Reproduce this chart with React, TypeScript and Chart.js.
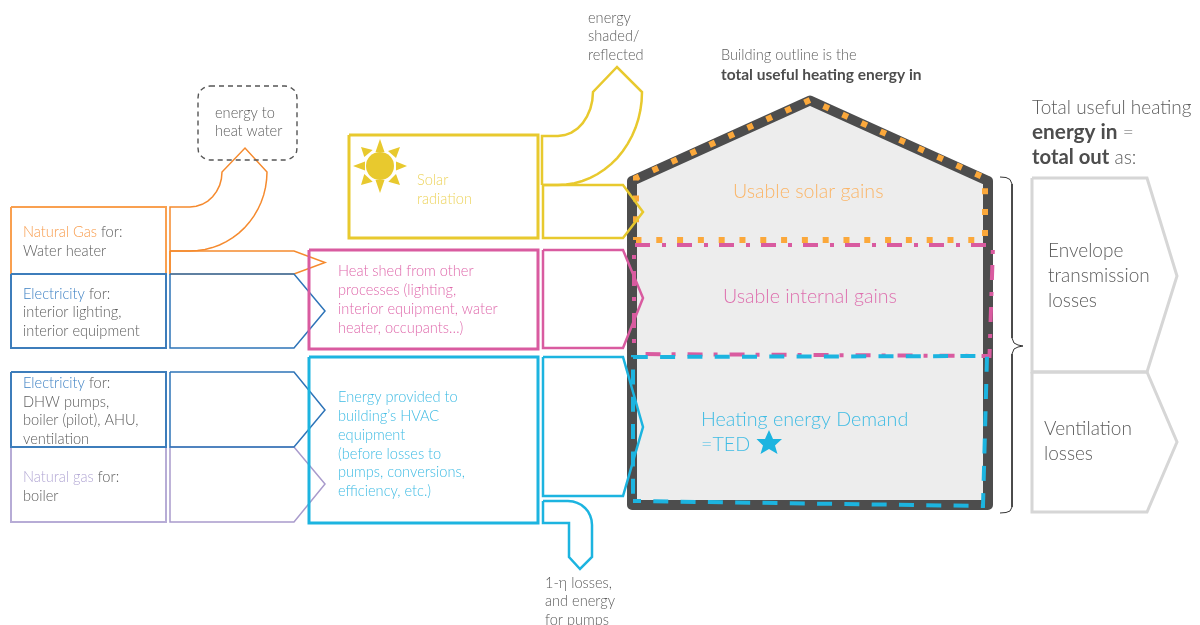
import React, { useEffect, useRef } from "react";
import { Chart, registerables } from "chart.js";

Chart.register(...registerables);

type P = [number, number];
const GREY = "#5C5C5C";
const FONT = "Lato";

// ---- shapes (x, y in page pixels) ----
const houseWall: P[] = [[632, 181], [810, 100.5], [988, 181], [988, 505], [632, 505], [632, 181]];
const solarDotted: P[] = [[636, 240], [636, 178], [810, 100], [985, 178], [985, 240], [636, 240]];
const internalDashDot: P[] = [[634, 354], [634, 245], [993, 245], [989.5, 356], [634, 354]];
const demandDashed: P[] = [[633, 501], [633, 357], [987, 356], [983, 506], [633, 501]];

const gasWaterBox: P[] = [[11, 207], [166, 207], [166, 274], [11, 274], [11, 207]];
const elecLightBox: P[] = [[11, 274], [166, 274], [166, 348], [11, 348], [11, 274]];
const elecPumpBox: P[] = [[11, 372], [166, 372], [166, 447], [11, 447], [11, 372]];
const gasBoilerBox: P[] = [[11, 447], [166, 447], [166, 522], [11, 522], [11, 447]];

const gasHeatArrow: P[] = [
  [170, 274], [170, 207], [190, 207], [196.2, 206.3], [202.2, 204.3], [207.8, 201.1], [212.6, 196.7], [216.6, 191.4], [219.6, 185.4], [221.4, 178.8], [222, 172], [245, 148], [267, 172],
  [266.6, 179.7], [265.5, 187.4], [263.7, 194.9], [261.1, 202.3], [257.9, 209.2], [254, 215.9], [249.5, 222.1], [244.4, 227.9], [238.8, 233.1], [232.8, 237.7], [226.3, 241.7], [219.5, 245], [212.3, 247.6], [205, 249.5], [197.5, 250.6], [190, 251], [170, 251],
];
const gasShedArrow: P[] = [[170, 251], [294, 251], [325, 262.5], [294, 274], [170, 274], [170, 251]];
const elecLightArrow: P[] = [[170, 274], [294, 274], [325, 311], [294, 348], [170, 348], [170, 274]];
const elecPumpArrow: P[] = [[170, 372], [294, 372], [325, 410], [294, 447], [170, 447], [170, 372]];
const gasBoilerArrow: P[] = [[170, 447], [294, 447], [325, 484], [294, 522], [170, 522], [170, 447]];

const solarBox: P[] = [[349, 135], [538, 135], [538, 238], [349, 238], [349, 135]];
const internalBox: P[] = [[309, 250], [538, 250], [538, 349], [309, 349], [309, 250]];
const hvacBox: P[] = [[309, 357], [538, 357], [538, 523], [309, 523], [309, 357]];

const shadedArrow: P[] = [
  [542, 185], [542, 136], [558, 136], [564.8, 135.1], [571.4, 132.6], [577.5, 128.5], [582.7, 123.1], [587, 116.5], [590.3, 108.8], [592.3, 100.6], [593, 92], [617, 67], [642, 92],
  [641.6, 101.1], [640.4, 110.1], [638.4, 119], [635.6, 127.6], [632.1, 135.8], [627.8, 143.7], [622.9, 151], [617.4, 157.8], [611.3, 163.9], [604.7, 169.3], [597.6, 174], [590.2, 177.9], [582.4, 181], [574.4, 183.2], [566.2, 184.5], [558, 185], [542, 185],
];
const solarArrow: P[] = [[543, 185], [623, 185], [643, 212], [623, 238], [543, 238], [543, 185]];
const internalArrow: P[] = [[543, 250], [623, 250], [643, 298], [623, 348], [543, 348], [543, 250]];
const hvacArrow: P[] = [[543, 357], [623, 357], [643, 427], [623, 496], [543, 496], [543, 357]];
const lossArrow: P[] = [
  [543, 501], [568, 501], [573, 501.5], [577.2, 502.8], [581.5, 505], [585, 508], [588, 511.5], [590.2, 515.8], [591.5, 520], [592, 525], [592, 557], [580, 569], [569, 557], [569, 523], [543, 523], [543, 501],
];

const hotWaterBox: P[] = [
  [210, 86], [285, 86], [288.5, 86.5], [291.5, 88], [294.5, 90.5], [296.5, 94], [297, 98], [297, 148], [296.5, 152], [294.5, 155.5], [291.5, 158], [288.5, 159.5], [285, 160],
  [210, 160], [206.5, 159.5], [203.5, 158], [200.5, 155.5], [198.5, 152], [198, 148], [198, 98], [198.5, 94], [200.5, 90.5], [203.5, 88], [206.5, 86.5], [210, 86],
];
const brace: P[] = [
  [1000, 177], [1006, 177.5], [1010, 179.5], [1012, 184], [1012, 338], [1014, 343], [1018, 345], [1023, 346],
  [1018, 347], [1014, 349], [1012, 354], [1012, 507], [1010, 511], [1006, 512.5], [1000, 513],
];
const envelopeArrow: P[] = [[1032, 178], [1147, 178], [1177, 276], [1147, 372], [1032, 372], [1032, 178]];
const ventArrow: P[] = [[1032, 372], [1147, 372], [1177, 442], [1147, 512], [1032, 512], [1032, 372]];

const star: P[] = [[769, 430], [773, 439], [782, 439], [775, 445.5], [777.5, 454], [769, 449], [760.5, 454], [763, 445.5], [756.5, 439], [765, 439], [769, 430]];
const sunCentre: P[] = [[380, 166]];
const sunRays: P[][] = [
  [[380, 139], [375.5, 152], [384.5, 152], [380, 139]],
  [[380, 193], [375.5, 180], [384.5, 180], [380, 193]],
  [[353, 166], [365, 161.5], [365, 170.5], [353, 166]],
  [[407, 166], [396, 161.5], [396, 170.5], [407, 166]],
  [[361, 147], [372.7, 150], [364.3, 157], [361, 147]],
  [[400, 147], [388, 151], [396, 158], [400, 147]],
  [[361, 185], [364.3, 174], [372.7, 181.7], [361, 185]],
  [[400, 185], [396, 174], [388.3, 181.7], [400, 185]],
];

// ---- text: [x, centre y, size, [text, colour, weight, size]...] ----
type Run = [string, string, number?, number?];
type Line = { x: number; y: number; size: number; runs: Run[] };
const ORANGE_T = "#F89C4C", BLUE_T = "#3F82C4", PURPLE_T = "#B2A7D4", YEL_T = "#EDD45E", PINK_T = "#DF68AB", CYAN_T = "#40BCE4", DARK = "#4D4D4D";
const L = (x: number, y: number, size: number, ...runs: Run[]): Line => ({ x, y, size, runs });
const S = 14.6;
const textLines: Line[] = [
  L(215, 113, S, ["energy to", GREY]), L(215, 131, S, ["heat water", GREY]),
  L(23, 232, S, ["Natural Gas", ORANGE_T], [" for:", GREY]), L(23, 251, S, ["Water heater", GREY]),
  L(23, 294, S, ["Electricity", BLUE_T], [" for:", GREY]), L(23, 312, S, ["interior lighting,", GREY]), L(23, 331, S, ["interior equipment", GREY]),
  L(23, 383, S, ["Electricity", BLUE_T], [" for:", GREY]), L(23, 402, S, ["DHW pumps,", GREY]), L(23, 420, S, ["boiler (pilot), AHU,", GREY]), L(23, 439, S, ["ventilation", GREY]),
  L(23, 477, S, ["Natural gas", PURPLE_T], [" for:", GREY]), L(23, 496, S, ["boiler", GREY]),
  L(417, 180, S, ["Solar", YEL_T]), L(417, 199, S, ["radiation", YEL_T]),
  L(338, 271, S, ["Heat shed from other", PINK_T]), L(338, 290, S, ["processes (lighting,", PINK_T]), L(338, 309, S, ["interior equipment, water", PINK_T]), L(338, 328, S, ["heater, occupants\u2026)", PINK_T]),
  L(338, 397, S, ["Energy provided to", CYAN_T]), L(338, 416, S, ["building\u2019s HVAC", CYAN_T]), L(338, 435, S, ["equipment", CYAN_T]), L(338, 454, S, ["(before losses to", CYAN_T]), L(338, 472, S, ["pumps, conversions,", CYAN_T]), L(338, 491, S, ["efficiency, etc.)", CYAN_T]),
  L(588, 18, S, ["energy", GREY]), L(588, 36, S, ["shaded/", GREY]), L(588, 55, S, ["reflected", GREY]),
  L(721, 55, S, ["Building outline is the", GREY]), L(721, 74, 15.5, ["total useful heating energy in", DARK, 700]),
  L(545, 583, S, ["1-\u03B7 losses,", GREY]), L(545, 601, S, ["and energy", GREY]), L(545, 620, S, ["for pumps", GREY]),
  L(733, 191, 19.6, ["Usable solar gains", "#FBB567"]), L(723, 296, 19.6, ["Usable internal gains", "#DE6FAE"]),
  L(701, 419, 19.7, ["Heating energy Demand", CYAN_T]), L(701, 444, 19.7, ["=TED", CYAN_T]),
  L(1032, 107, 19, ["Total useful heating", GREY]), L(1032, 132, 19, ["energy in", DARK, 700, 20.8], [" =", GREY]), L(1032, 157, 19, ["total out", DARK, 700, 20.3], [" as:", GREY]),
  L(1048, 250.5, 19, ["Envelope", GREY]), L(1048, 275.5, 19, ["transmission", GREY]), L(1048, 300.5, 19, ["losses", GREY]),
  L(1044, 428, 19, ["Ventilation", GREY]), L(1044, 453, 19, ["losses", GREY]),
];

const textPlugin = {
  id: "diagramText",
  afterDatasetsDraw(chart: any) {
    const { ctx, scales } = chart;
    ctx.save();
    ctx.textBaseline = "alphabetic";
    ctx.textAlign = "left";
    for (const line of textLines) {
      let x = scales.x.getPixelForValue(line.x);
      const y = scales.y.getPixelForValue(line.y) + line.size * 0.36;
      for (const [text, colour, weight, size] of line.runs) {
        ctx.font = `${weight ?? 300} ${size ?? line.size}px ${FONT}`;
        ctx.fillStyle = colour;
        ctx.fillText(text, x, y);
        x += ctx.measureText(text).width;
      }
    }
    ctx.restore();
  },
};

const toXY = (pts: P[]) => pts.map(([x, y]) => ({ x, y }));
const shape = (pts: P[], color: string, width: number, extra: any = {}) => ({
  data: toXY(pts), borderColor: color, borderWidth: width, backgroundColor: "transparent",
  showLine: true, pointRadius: 0, fill: false, tension: 0, borderJoinStyle: "miter", ...extra,
});

export default function App() {
  const ref = useRef<HTMLCanvasElement>(null);
  useEffect(() => {
    document.body.style.margin = "0";
    const ORANGE = "#F58A2E", BOX_ORANGE = "#F9A050", BLUE = "#2E74B8", BOX_BLUE = "#3D7DBB", PURPLE = "#A99BCC", YEL = "#E8C92E", PINK = "#D95BA0", CYAN = "#1CB4E0", LG = "#D6D6D6";
    const list: any[] = [
      shape(houseWall, "#4D4D4D", 10, { fill: "shape", backgroundColor: "#EDEDED", borderJoinStyle: "round", borderCapStyle: "round" }),
      shape(internalDashDot, PINK, 4, { borderDash: [15, 12, 4, 11], borderDashOffset: 16 }),
      shape(solarDotted, "#FBA83B", 6, { borderDash: [6, 14.8], borderDashOffset: 3 }),
      shape(demandDashed, CYAN, 4, { borderDash: [15, 12.3], borderDashOffset: 20 }),
      shape(gasWaterBox, BOX_ORANGE, 2), shape(elecLightBox, BOX_BLUE, 2), shape(gasBoilerBox, "#B7ACD6", 2), shape(elecPumpBox, BOX_BLUE, 2),
      shape(gasHeatArrow, ORANGE, 1.5), shape(gasShedArrow, ORANGE, 1.5), shape(gasBoilerArrow, PURPLE, 1.5), shape(elecLightArrow, BLUE, 1.5), shape(elecPumpArrow, BLUE, 1.5),
      shape(solarBox, YEL, 3), shape(internalBox, PINK, 3), shape(hvacBox, CYAN, 3),
      shape(shadedArrow, YEL, 2.5), shape(solarArrow, YEL, 2.5), shape(internalArrow, PINK, 2.5), shape(hvacArrow, CYAN, 2.5), shape(lossArrow, CYAN, 2.5),
      shape(hotWaterBox, "#555555", 1.4, { borderDash: [5, 4] }),
      shape(brace, "#333333", 1),
      shape(envelopeArrow, LG, 3), shape(ventArrow, LG, 3),
      shape(star, "transparent", 0, { fill: "shape", backgroundColor: CYAN }),
      ...sunRays.map((r) => shape(r, "transparent", 0, { fill: "shape", backgroundColor: YEL })),
      { data: toXY(sunCentre), showLine: false, pointRadius: 14, pointBackgroundColor: YEL, pointBorderWidth: 0 },
    ];
    list.forEach((d, i) => { d.order = -i; });
    const chart = new Chart(ref.current!, {
      type: "scatter",
      data: { datasets: list },
      options: {
        animation: false,
        responsive: false,
        layout: { padding: 0, autoPadding: false },
        events: [],
        plugins: { legend: { display: false }, tooltip: { enabled: false }, title: { display: false } },
        scales: {
          x: { type: "linear", min: 0, max: 1200, display: false },
          y: { type: "linear", min: 0, max: 625, reverse: true, display: false },
        },
      },
      plugins: [textPlugin],
    } as any);
    return () => chart.destroy();
  }, []);
  return <canvas ref={ref} width={1200} height={625} style={{ display: "block" }} />;
}
